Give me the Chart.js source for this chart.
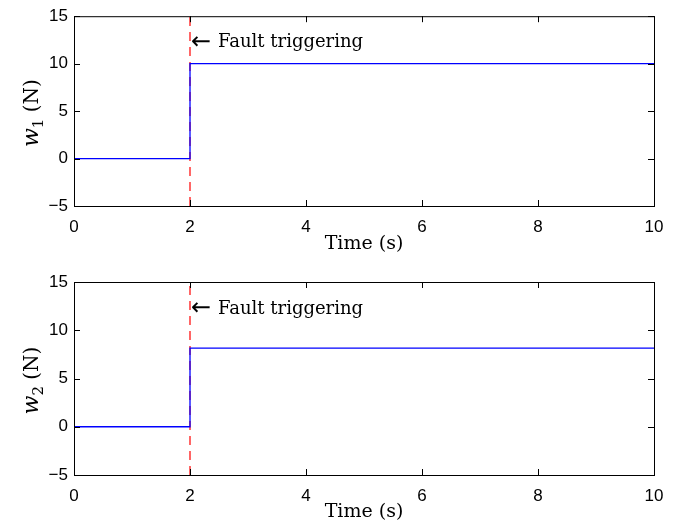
<!DOCTYPE html>
<html>
<head>
<meta charset="utf-8">
<script src="https://cdn.jsdelivr.net/npm/chart.js@4"></script>
<style>
  body { margin: 0; background: #fff; }
  canvas { display: block; }
</style>
</head>
<body>
<canvas id="top" width="686" height="264"></canvas>
<canvas id="bottom" width="686" height="264"></canvas>
<script>
// data
const timeSteps = [0, 2, 2, 10];
const w1Values = [0, 0, 10, 10];
const w2Values = [0, 0, 8.15, 8.15];
const faultX = [2, 2];
const faultY = [-5, 15];
const xTicks = [0, 2, 4, 6, 8, 10];
const yTicks = [-5, 0, 5, 10, 15];
const noteX = 2;
const noteY = 12.2;
const noteArrow = '\u2190';
const noteText = 'Fault triggering';
const xTitle = 'Time (s)';

const serif = '"DejaVu Serif", "Liberation Serif", serif';

// box with inward ticks, axis titles and the note
const framePlugin = {
  id: 'frame',
  afterDatasetsDraw(chart, args, opts) {
    const { ctx, chartArea: a, scales } = chart;
    const x = scales.x, y = scales.y;
    ctx.save();
    ctx.strokeStyle = '#000';
    ctx.lineWidth = 1;
    ctx.strokeRect(a.left + 0.5, a.top + 0.5, a.right - a.left, a.bottom - a.top);
    ctx.beginPath();
    xTicks.forEach(v => {
      const px = Math.round(x.getPixelForValue(v)) + 0.5;
      ctx.moveTo(px, a.bottom); ctx.lineTo(px, a.bottom - 6);
      ctx.moveTo(px, a.top); ctx.lineTo(px, a.top + 6);
    });
    yTicks.forEach(v => {
      const py = Math.round(y.getPixelForValue(v)) + 0.5;
      ctx.moveTo(a.left, py); ctx.lineTo(a.left + 6, py);
      ctx.moveTo(a.right, py); ctx.lineTo(a.right - 6, py);
    });
    ctx.stroke();

    ctx.fillStyle = '#000';
    // note: arrow then text
    const nx = x.getPixelForValue(noteX) + 1;
    const ny = y.getPixelForValue(noteY);
    ctx.textAlign = 'left';
    ctx.textBaseline = 'middle';
    ctx.font = '24px "DejaVu Sans", sans-serif';
    ctx.fillText(noteArrow, nx, ny);
    ctx.font = '18px ' + serif;
    ctx.fillText(noteText, nx + 27, ny);

    // x title
    ctx.font = '19px ' + serif;
    ctx.textAlign = 'center';
    ctx.textBaseline = 'alphabetic';
    ctx.fillText(xTitle, (a.left + a.right) / 2, a.bottom + opts.titleOffset);

    // y title: italic w, subscript, (N)
    const parts = [
      { t: 'w', f: 'italic 22px ' + serif, dy: 0 },
      { t: opts.sub, f: '15px ' + serif, dy: 5 },
      { t: ' (N)', f: '20px ' + serif, dy: 0 }
    ];
    let total = 0;
    parts.forEach(p => { ctx.font = p.f; p.w = ctx.measureText(p.t).width; total += p.w; });
    ctx.translate(38, (a.top + a.bottom) / 2 + 2);
    ctx.rotate(-Math.PI / 2);
    ctx.textAlign = 'left';
    let cx = -total / 2;
    parts.forEach(p => { ctx.font = p.f; ctx.fillText(p.t, cx, p.dy); cx += p.w; });
    ctx.restore();
  }
};

function makeChart(id, values, sub, top, bottom, titleOffset) {
  const h = 264;
  return new Chart(document.getElementById(id), {
    type: 'line',
    data: {
      datasets: [
        {
          data: timeSteps.map((t, i) => ({ x: t, y: values[i] })),
          borderColor: '#0000ff',
          borderWidth: 1.3,
          pointRadius: 0,
          order: 0
        },
        {
          data: faultX.map((t, i) => ({ x: t, y: faultY[i] })),
          borderColor: '#ff0000',
          borderWidth: 1.2,
          borderDash: [9, 6],
          pointRadius: 0,
          order: 1
        }
      ]
    },
    options: {
      responsive: false,
      animation: false,
      devicePixelRatio: 1,
      layout: { padding: { top: top, right: 32, left: 0, bottom: 0 } },
      plugins: {
        legend: { display: false },
        tooltip: { enabled: false },
        frame: { sub: sub, titleOffset: titleOffset }
      },
      scales: {
        x: {
          type: 'linear',
          min: 0, max: 10,
          grid: { display: false, drawTicks: false },
          border: { display: false },
          afterBuildTicks: s => { s.ticks = xTicks.map(v => ({ value: v })); },
          ticks: {
            color: '#000',
            font: { family: '"Liberation Sans", Arial, sans-serif', size: 17 },
            padding: 11,
            maxRotation: 0
          },
          afterFit: s => { s.height = h - bottom; }
        },
        y: {
          min: -5, max: 15,
          grid: { display: false, drawTicks: false },
          border: { display: false },
          afterBuildTicks: s => { s.ticks = yTicks.map(v => ({ value: v })); },
          ticks: {
            color: '#000',
            font: { family: '"Liberation Sans", Arial, sans-serif', size: 17 },
            padding: 6,
            callback: v => (v < 0 ? '\u2212' + Math.abs(v) : String(v))
          },
          afterFit: s => { s.width = 74; }
        }
      }
    },
    plugins: [framePlugin]
  });
}

makeChart('top', w1Values, '1', 13, 206, 43);
makeChart('bottom', w2Values, '2', 18, 211, 42);
</script>
</body>
</html>
